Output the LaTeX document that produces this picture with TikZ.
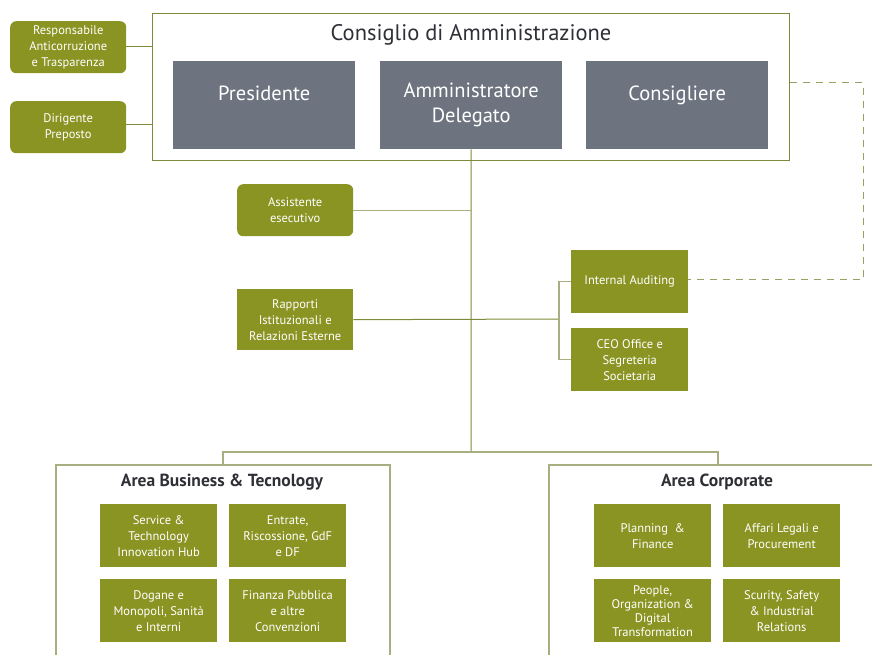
\documentclass[tikz,border=0pt]{standalone}
\usepackage{fontspec}
\setmainfont{PT Sans}
\definecolor{oliveG}{HTML}{8A9422}
\definecolor{grayB}{HTML}{6D7480}
\definecolor{lineD}{HTML}{7E8A3A}
\definecolor{lineL}{HTML}{A9AE80}
\definecolor{titleC}{HTML}{2E3036}
\begin{document}
\begin{tikzpicture}[x=1pt,y=-1pt,
  gbox/.style={fill=oliveG, text=white, inner sep=0pt, align=center, anchor=north west,
    font=\fontsize{12.5}{16}\selectfont, minimum width=117pt, minimum height=63pt},
  rbox/.style={gbox, rounded corners=6pt, minimum width=116pt, minimum height=52pt},
  bbox/.style={fill=grayB, text=white, inner sep=0pt, align=center, anchor=north west,
    font=\fontsize{20.5}{25}\selectfont, minimum width=182pt, minimum height=88pt},
  frame/.style={draw=lineD, line width=1.2pt},
  areaframe/.style={draw=lineL, line width=1.2pt},
  conD/.style={draw=lineD, line width=1pt},
  conL/.style={draw=lineL, line width=1.2pt},
  dashc/.style={draw=lineD!80, line width=1pt, dash pattern=on 7pt off 6pt},
  ttl/.style={text=titleC, inner sep=0pt},
]
\useasboundingbox (0,0) rectangle (872,655);

% Consiglio frame
\node[frame, anchor=north west, minimum width=637pt, minimum height=147pt, inner sep=0pt] (cda) at (152,13) {};
\node[ttl, font=\fontsize{22.5}{26}\selectfont] (cdat) at (471,35) {Consiglio di Amministrazione};
\node[bbox] (pres) at (173,61) {\raisebox{-2pt}{Presidente}\\\phantom{X}};
\node[bbox] (ad) at (380,61) {\raisebox{-2pt}{Amministratore}\\\raisebox{-2pt}{Delegato}};
\node[bbox] (cons) at (586,61) {\raisebox{-2pt}{Consigliere}\\\phantom{X}};

% left staff
\node[rbox] (resp) at (10,21) {Responsabile\\Anticorruzione\\e Trasparenza};
\node[rbox] (dir) at (10,101) {Dirigente\\Preposto};
\node[rbox] (ass) at (237,184) {Assistente\\esecutivo};
\node[gbox, minimum width=116pt, minimum height=61pt] (rap) at (237,289) {Rapporti\\Istituzionali e\\Relazioni Esterne};
\node[gbox] (ia) at (571,250) {Internal Auditing};
\node[gbox] (ceo) at (571,328) {CEO Office e\\Segreteria\\Societaria};

% areas
\draw[areaframe] (56,660) -- (56,465) -- (390,465) -- (390,660);
\draw[areaframe] (549,660) -- (549,465) -- (880,465);
\node[ttl, font=\fontsize{17.5}{20}\selectfont\bfseries] (abt) at (222,482) {Area Business \& Tecnology};
\node[ttl, font=\fontsize{17.5}{20}\selectfont\bfseries] (acp) at (717,482) {Area Corporate};
\coordinate (abttop) at (223,465);
\coordinate (acptop) at (718,465);
\coordinate (j1) at (471,452);
\coordinate (br) at (559,319);

\node[gbox] (b1) at (100,504) {Service \&\\Technology\\Innovation Hub};
\node[gbox] (b2) at (229,504) {Entrate,\\Riscossione, GdF\\e DF};
\node[gbox] (b3) at (100,579) {Dogane e\\Monopoli, Sanità\\e Interni};
\node[gbox] (b4) at (229,579) {Finanza Pubblica\\e altre\\Convenzioni};
\node[gbox] (c1) at (594,504) {Planning~ \&\\Finance};
\node[gbox] (c2) at (723,504) {Affari Legali e\\Procurement};
\node[gbox, font=\fontsize{12.5}{14}\selectfont] (c3) at (594,579) {People,\\Organization \&\\Digital\\Transformation};
\node[gbox] (c4) at (723,579) {Scurity, Safety\\\& Industrial\\Relations};

% connectors
\draw[conD] ([yshift=-26pt]resp.north east) -- ([yshift=-26pt]resp.north east -| cda.west);
\draw[conD] ([yshift=3pt]dir.east) -- ([yshift=3pt]dir.east -| cda.west);
\draw[conD] (ad.south) -- (j1);
\draw[conL] (ass.east) -- (ass.east -| ad.south);
\draw[conD] (rap.east) -- (br);
\draw[conL] (ia.west) -| (br) |- (ceo.west);
\draw[conL] (abttop) |- (j1) -| (acptop);
\draw[dashc] ([yshift=4.5pt]cda.east) -- ++(73,0) |- ([yshift=2.5pt]ia.east);
\end{tikzpicture}
\end{document}
